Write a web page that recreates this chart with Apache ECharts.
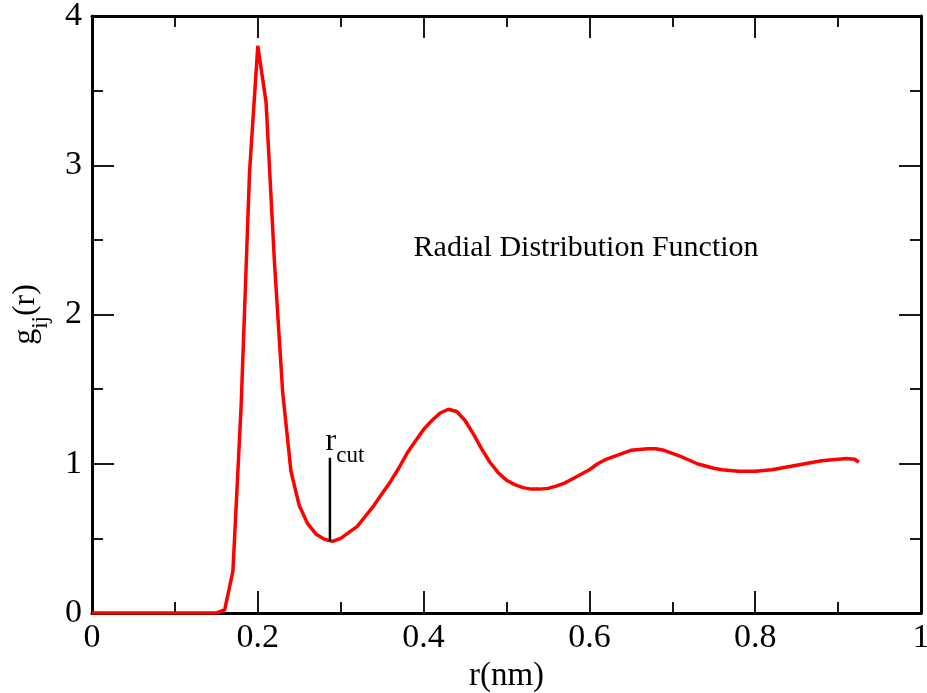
<!DOCTYPE html>
<html>
<head>
<meta charset="utf-8">
<script src="https://cdn.jsdelivr.net/npm/echarts@6/dist/echarts.min.js"></script>
<style>
html,body{margin:0;padding:0;background:#fff;}
#chart{width:927px;height:693px;}
</style>
</head>
<body>
<div id="chart"></div>
<script>
// r (nm) sample positions and g(r) values
const rValues = [0,0.01,0.02,0.03,0.04,0.05,0.06,0.07,0.08,0.09,0.10,0.11,0.12,0.13,0.14,0.15,
  0.16,0.17,0.18,0.19,0.20,0.21,0.22,0.23,0.24,0.25,0.26,0.27,0.28,0.29,0.30,
  0.31,0.32,0.33,0.34,0.35,0.36,0.37,0.38,0.39,0.40,0.41,0.42,0.43,0.44,0.45,
  0.46,0.47,0.48,0.49,0.50,0.51,0.52,0.53,0.54,0.55,0.56,0.57,0.58,0.59,0.60,
  0.61,0.62,0.63,0.64,0.65,0.66,0.67,0.68,0.69,0.70,0.71,0.72,0.73,0.74,0.75,
  0.76,0.77,0.78,0.79,0.80,0.81,0.82,0.83,0.84,0.85,0.86,0.87,0.88,0.89,0.90,
  0.91,0.92,0.925];
const gValues = [0,0,0,0,0,0,0,0,0,0,0,0,0,0,0,0,
  0.02,0.28,1.40,2.95,3.80,3.42,2.36,1.48,0.95,0.72,0.60,0.53,0.495,0.48,0.50,
  0.54,0.58,0.65,0.72,0.80,0.88,0.97,1.07,1.15,1.23,1.29,1.34,1.365,1.35,1.29,
  1.20,1.10,1.01,0.94,0.89,0.86,0.84,0.83,0.83,0.835,0.85,0.87,0.90,0.93,0.96,
  1.00,1.03,1.05,1.07,1.09,1.095,1.10,1.10,1.09,1.07,1.05,1.025,1.00,0.985,0.97,
  0.96,0.955,0.95,0.95,0.95,0.955,0.96,0.97,0.98,0.99,1.00,1.01,1.02,1.025,1.03,
  1.035,1.03,1.01];
// r_cut marker
const rCut = 0.287;
const rCutRange = [0.48, 1.04];
// annotation position (data coordinates)
const annotation = {text: 'Radial Distribution Function', r: 0.596, g: 2.445};
const xTicks = {min: 0, max: 1, interval: 0.2};
const yTicks = {min: 0, max: 4, interval: 1};

const FONT = '"Liberation Serif", "DejaVu Serif", serif';
const chart = echarts.init(document.getElementById('chart'));
const curve = rValues.map((r, i) => [r, gValues[i]]);
const cutLine = rCutRange.map(g => [rCut, g]);

const axisLine = {show: true, onZero: false, lineStyle: {color: '#000', width: 3}};
const majorTick = {show: true, inside: true, length: 22, lineStyle: {color: '#000', width: 1.8}};
const minorTick = {show: true, splitNumber: 2, length: 11, lineStyle: {color: '#000', width: 1.8}};
const subRich = {
  base: {fontFamily: FONT, fontSize: 32, color: '#000', lineHeight: 32, verticalAlign: 'top'},
  sub: {fontFamily: FONT, fontSize: 23, color: '#000', lineHeight: 23, verticalAlign: 'top', padding: [19, 0, 0, 0]}
};

chart.setOption({
  animation: false,
  backgroundColor: '#fff',
  grid: {left: 92, right: 6, top: 16, bottom: 80, show: false, containLabel: false, outerBoundsMode: 'none'},
  xAxis: [{
    type: 'value', min: xTicks.min, max: xTicks.max, interval: xTicks.interval,
    position: 'bottom',
    name: 'r(nm)', nameLocation: 'middle', nameGap: 46,
    nameTextStyle: {fontFamily: FONT, fontSize: 33, color: '#000'},
    axisLine: axisLine, axisTick: majorTick, minorTick: minorTick,
    splitLine: {show: false},
    axisLabel: {fontFamily: FONT, fontSize: 34, color: '#000', margin: 8,
      formatter: v => String(+v.toFixed(1))}
  }, {
    type: 'value', min: xTicks.min, max: xTicks.max, interval: xTicks.interval,
    position: 'top',
    axisLine: axisLine, axisTick: majorTick, minorTick: minorTick,
    splitLine: {show: false}, axisLabel: {show: false}
  }],
  yAxis: [{
    type: 'value', min: yTicks.min, max: yTicks.max, interval: yTicks.interval,
    position: 'left',
    name: '{base|g}{sub|ij}{base|(r)}', nameLocation: 'middle', nameGap: 50,
    nameTextStyle: {rich: subRich},
    axisLine: axisLine, axisTick: majorTick, minorTick: minorTick,
    splitLine: {show: false},
    axisLabel: {fontFamily: FONT, fontSize: 34, color: '#000', margin: 10}
  }, {
    type: 'value', min: yTicks.min, max: yTicks.max, interval: yTicks.interval,
    position: 'right',
    axisLine: axisLine, axisTick: majorTick, minorTick: minorTick,
    splitLine: {show: false}, axisLabel: {show: false}
  }],
  series: [{
    type: 'line', data: curve, showSymbol: false, symbol: 'none',
    lineStyle: {color: '#ff0000', width: 3.5}, z: 3
  }, {
    type: 'line', data: cutLine, symbol: 'none',
    lineStyle: {color: '#000', width: 2.5},
    markPoint: {
      symbol: 'circle', symbolSize: 0,
      data: [{coord: [rCut, rCutRange[1]], value: 'r_cut',
        label: {show: true, position: 'top', distance: 0, offset: [15, 0],
          formatter: '{base|r}{sub|cut}', rich: subRich}}]
    }
  }, {
    type: 'scatter', data: [[annotation.r, annotation.g]], symbolSize: 0,
    itemStyle: {opacity: 1},
    label: {show: true, position: 'inside', formatter: annotation.text,
      fontFamily: FONT, fontSize: 30, color: '#000', opacity: 1}
  }]
});
</script>
</body>
</html>
